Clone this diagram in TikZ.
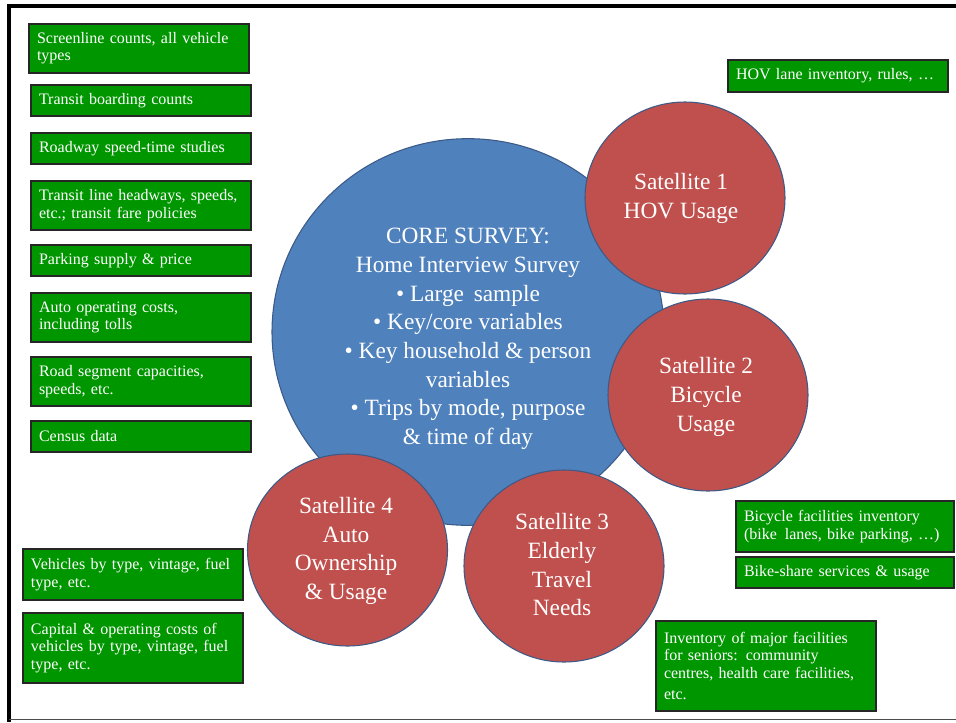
\documentclass[tikz,border=0pt]{standalone}
\usepackage{fontspec}
\setmainfont{Liberation Serif}
\usetikzlibrary{shapes.geometric}
\definecolor{boxgreen}{RGB}{0,150,0}
\definecolor{coreblue}{RGB}{79,129,189}
\definecolor{satred}{RGB}{192,80,77}
\definecolor{rimblue}{RGB}{60,90,135}
\begin{document}
\begin{tikzpicture}[x=0.75pt,y=-0.75pt,
 gbox/.style={draw=black!85, line width=1.1pt, fill=boxgreen, text=white,
   font=\fontsize{12}{13}\selectfont, align=left, anchor=north west,
   inner xsep=6pt, inner ysep=0pt, outer sep=0pt, text width=153pt},
 sat/.style={ellipse, draw=rimblue, line width=0.8pt, fill=satred,
   minimum width=150pt, minimum height=144pt, inner sep=0pt},
 core/.style={ellipse, draw=rimblue, line width=0.8pt, fill=coreblue,
   minimum width=294pt, minimum height=290pt, inner sep=0pt},
 ctext/.style={text=white, align=center, font=\fontsize{17.5}{21.5}\selectfont, inner sep=0pt}
]
\useasboundingbox (0,0) rectangle (956,722);
% frame
\draw[line width=3pt] (7,5.5) -- (956,5.5);
\draw[line width=3.5pt] (9,4) -- (9,722);
\draw[line width=1.1pt, black!70] (9,719.5) -- (956,719.5);

% core and satellites
\node[core] (core) at (468,332) {};
\node[sat] (s1) at (685,198) {};
\node[sat] (s2) at (708,395) {};
\node[sat] (s3) at (564,566) {};
\node[sat] (s4) at (347.5,550) {};

\node[ctext] (coretext) at (468,339) {CORE SURVEY:\\Home Interview Survey\\• Large\, sample\\• Key/core variables\\• Key household \& person\\variables\\• Trips by mode, purpose\\\& time of day};
\node[ctext] (s1text) at (681,198.5) {Satellite 1\\HOV Usage};
\node[ctext] (s2text) at (706,397) {Satellite 2\\Bicycle\\Usage};
\node[ctext] (s3text) at (562,565) {Satellite 3\\Elderly\\Travel\\Needs};
\node[ctext] (s4text) at (346,551) {Satellite 4\\Auto\\Ownership\\\& Usage};

% left column boxes
\node[gbox, minimum height=36.75pt] (b1) at (29,24) {Screenline counts, all vehicle\\types};
\node[gbox, minimum height=23.25pt] (b2) at (31,85) {Transit boarding counts};
\node[gbox, minimum height=23.25pt] (b3) at (31,133) {Roadway speed-time studies};
\node[gbox, minimum height=36.75pt] (b4) at (31,181) {Transit line headways, speeds,\\etc.; transit fare policies};
\node[gbox, minimum height=23.25pt] (b5) at (31,245) {Parking supply \& price};
\node[gbox, minimum height=36.75pt] (b6) at (31,293) {Auto operating costs,\\including tolls};
\node[gbox, minimum height=36.75pt] (b7) at (31,357) {Road segment capacities,\\speeds, etc.};
\node[gbox, minimum height=23.25pt] (b8) at (31,421) {Census data};
\node[gbox, minimum height=38.25pt] (b9) at (23,549) {Vehicles by type, vintage, fuel\\type, etc.};
\node[gbox, minimum height=52.5pt] (b10) at (23,613) {Capital \& operating costs of\\vehicles by type, vintage, fuel\\type, etc.};

% right boxes
\node[gbox, minimum height=24pt] (hov) at (728,60) {HOV lane inventory, rules, …};
\node[gbox, minimum height=38.25pt, text width=151.5pt] (bike1) at (736,501) {Bicycle facilities inventory\\(bike\, lanes, bike parking, …)};
\node[gbox, minimum height=23.25pt, text width=151.5pt] (bike2) at (736,557) {Bike-share services \& usage};
\node[gbox, minimum height=67.5pt] (senior) at (656,621) {Inventory of major facilities\\for seniors: community\\centres, health care facilities,\\[3pt]etc.};
\end{tikzpicture}
\end{document}
